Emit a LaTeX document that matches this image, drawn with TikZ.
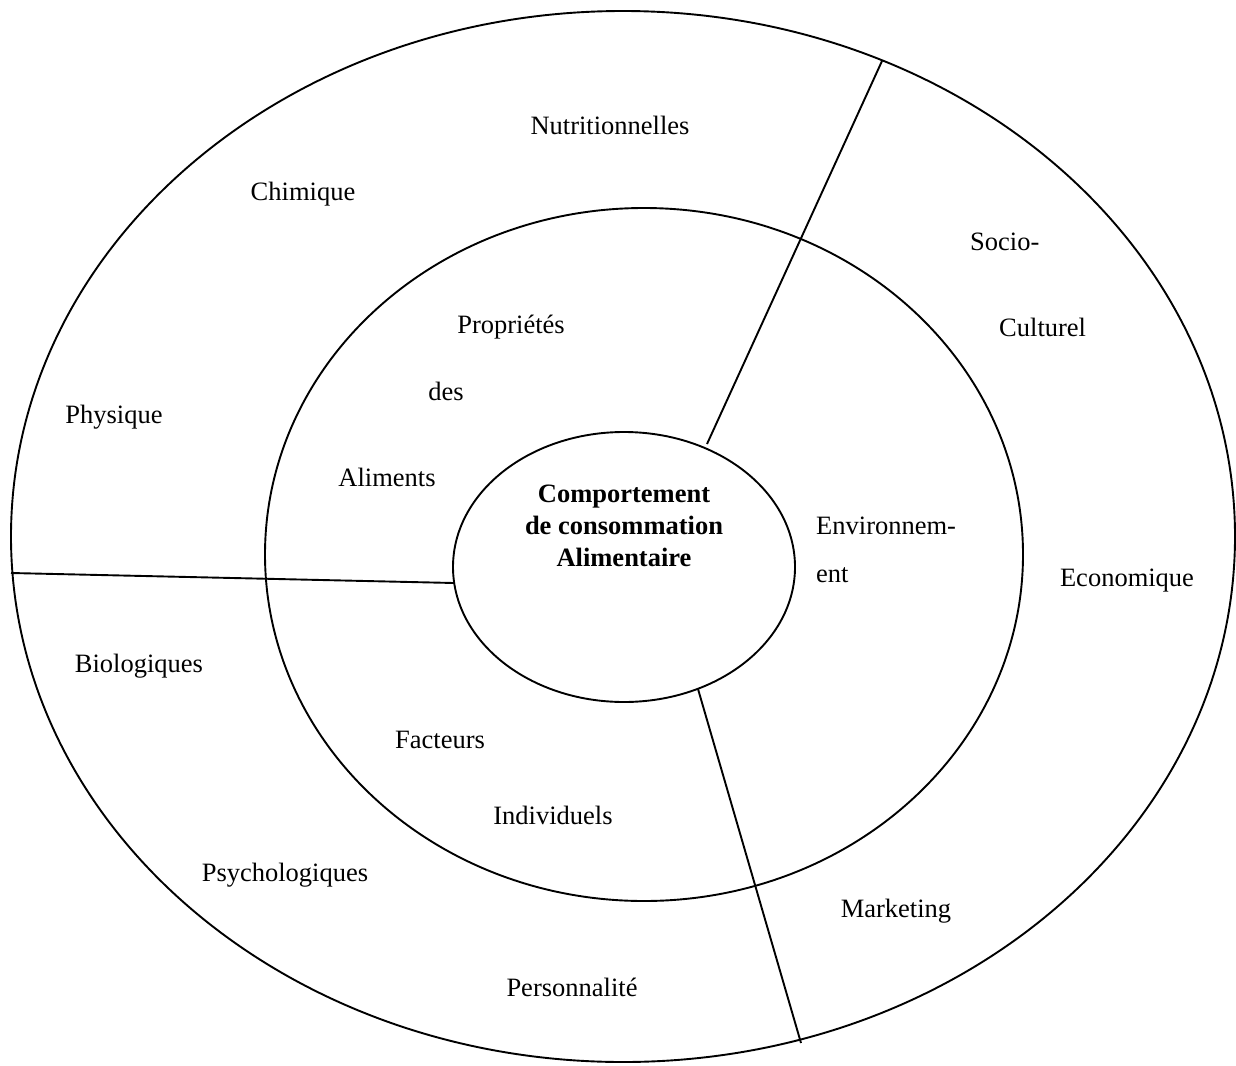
\documentclass[tikz,border=0pt]{standalone}
\usepackage{fontspec}
\setmainfont{Liberation Serif}
\usetikzlibrary{shapes.geometric}
\begin{document}
\begin{tikzpicture}[x=1pt,y=-1pt,
  ring/.style={draw, ellipse, line width=1.9pt, inner sep=0pt},
  divider/.style={line width=1.9pt},
  lbl/.style={anchor=base, inner sep=0pt, font=\fontsize{26.5}{32}\selectfont},
  lblw/.style={lbl, anchor=base west}]
\useasboundingbox (0,0) rectangle (1236,1065);

% three concentric rings
\node[ring, minimum width=1224pt, minimum height=1051pt] (outer) at (623,536.5) {};
\node[ring, minimum width=758pt, minimum height=693pt] (middle) at (644,554.5) {};
\node[ring, minimum width=342pt, minimum height=270pt] (inner) at (624,567) {};

% ends of the three dividing lines
\coordinate (d1o) at (882,61);
\coordinate (d1i) at (707,444);
\coordinate (d2o) at (11,573);
\coordinate (d2i) at (454,583);
\coordinate (d3i) at (698,689);
\coordinate (d3o) at (801,1043);
\draw[divider] (d1o) -- (d1i);
\draw[divider] (d2o) -- (d2i);
\draw[divider] (d3i) -- (d3o);

% centre title
\node[anchor=north, inner sep=0pt, align=center,
      font=\fontsize{26.5}{32}\selectfont\bfseries] (title) at (624,485)
  {Comportement\\de consommation\\Alimentaire};

% food properties sector
\node[lbl] (nutri) at (610,134) {Nutritionnelles};
\node[lbl] (chim) at (303,200) {Chimique};
\node[lbl] (phys) at (114,423) {Physique};
\node[lbl] (prop) at (511,333) {Propriétés};
\node[lbl] (des) at (446,400) {des};
\node[lbl] (alim) at (387,486) {Aliments};

% environment sector
\node[lblw] (socio) at (970,250) {Socio-};
\node[lblw] (cult) at (999,336) {Culturel};
\node[lblw] (env1) at (816,534) {Environnem-};
\node[lblw] (env2) at (816,582) {ent};
\node[lbl] (eco) at (1127,586) {Economique};
\node[lbl] (mark) at (896,917) {Marketing};

% individual factors sector
\node[lbl] (bio) at (139,672) {Biologiques};
\node[lbl] (fact) at (440,748) {Facteurs};
\node[lbl] (indiv) at (553,824) {Individuels};
\node[lbl] (psy) at (285,881) {Psychologiques};
\node[lbl] (pers) at (572,996) {Personnalité};
\end{tikzpicture}
\end{document}
